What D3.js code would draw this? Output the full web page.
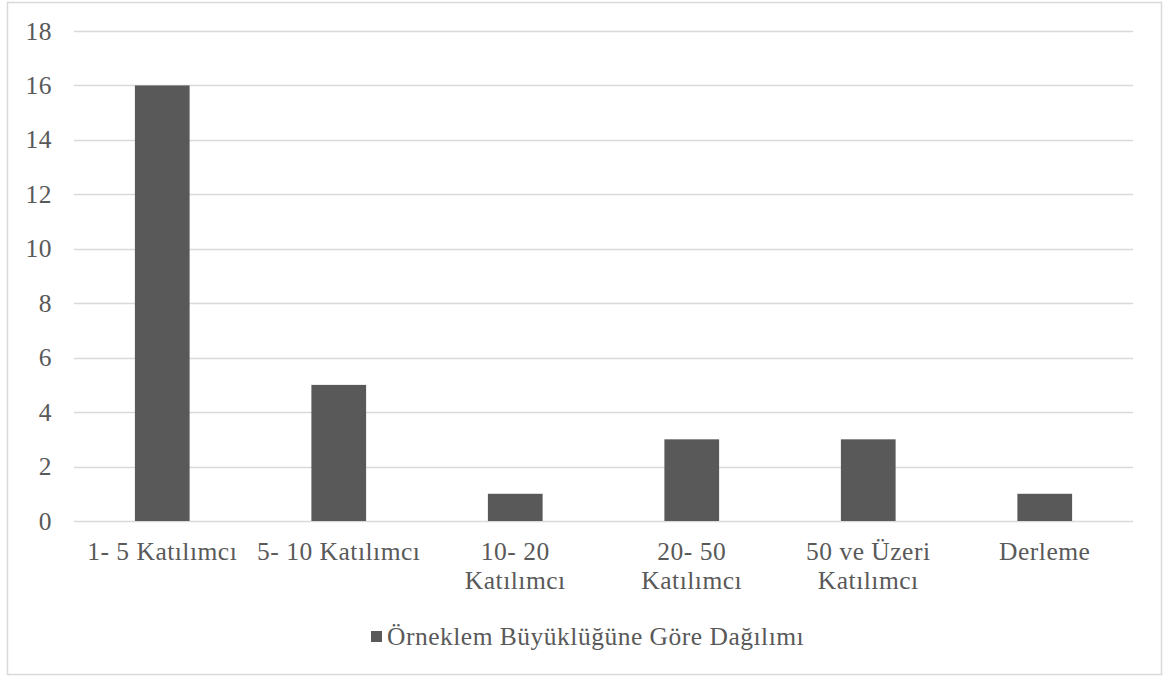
<!DOCTYPE html>
<html><head><meta charset="utf-8">
<script src="https://cdn.jsdelivr.net/npm/d3@7"></script>
<style>
body{margin:0;background:#fff;}
</style></head>
<body><svg id="c" width="1168" height="679"></svg>
<script>
const categories = [["1- 5 Katılımcı"],["5- 10 Katılımcı"],["10- 20","Katılımcı"],["20- 50","Katılımcı"],["50 ve Üzeri","Katılımcı"],["Derleme"]];
const values = [16,5,1,3,3,1];
const yTicks = [0,2,4,6,8,10,12,14,16,18];
const seriesName = "Örneklem Büyüklüğüne Göre Dağılımı";

(function(){
const FONT = "'Liberation Serif', Tinos, 'Times New Roman', 'DejaVu Serif', serif";
const FS = 25.5, LS = 0.5;
const svg = d3.select("#c").attr("font-family",FONT);
svg.append("rect").attr("x",7.5).attr("y",2.5).attr("width",1154).attr("height",672)
  .attr("fill","#fff").attr("stroke","#d9d9d9").attr("stroke-width",1.5);

const pL=74,pR=1133,pT=31,pB=521;
const x = d3.scaleBand().domain(d3.range(categories.length)).range([pL,pR]).paddingInner(0.69).paddingOuter(0.345);
const y = d3.scaleLinear().domain([0,18]).range([pB,pT]);

svg.append("g").selectAll("line").data(yTicks).join("line")
  .attr("x1",pL).attr("x2",pR).attr("y1",d=>Math.round(y(d))+0.5).attr("y2",d=>Math.round(y(d))+0.5)
  .attr("stroke","#d9d9d9").attr("stroke-width",1.5);

svg.append("g").selectAll("text").data(yTicks).join("text")
  .attr("x",52).attr("y",d=>y(d)+8.5).attr("text-anchor","end")
  .attr("font-size",FS).attr("letter-spacing",LS).attr("fill","#595959").attr("font-family",FONT).text(d=>d);

svg.append("g").selectAll("rect").data(values).join("rect")
  .attr("x",(d,i)=>x(i)).attr("width",x.bandwidth())
  .attr("y",d=>y(d)).attr("height",d=>y(0)-y(d)).attr("fill","#595959");

const xl = svg.append("g").selectAll("text").data(categories).join("text")
  .attr("text-anchor","middle").attr("font-size",FS).attr("letter-spacing",LS).attr("fill","#595959").attr("font-family",FONT)
  .attr("x",(d,i)=>x(i)+x.bandwidth()/2).attr("y",559.5);
xl.selectAll("tspan").data(d=>d).join("tspan")
  .attr("x",function(){return this.parentNode.getAttribute("x");})
  .attr("dy",(d,i)=>i===0?0:29.5).text(d=>d);

const lg = svg.append("g");
lg.append("rect").attr("x",371).attr("y",631).attr("width",11).attr("height",11).attr("fill","#595959");
lg.append("text").attr("x",387).attr("y",644.5).attr("font-size",FS).attr("letter-spacing",LS).attr("fill","#595959").attr("font-family",FONT).text(seriesName);
})();
</script></body></html>
